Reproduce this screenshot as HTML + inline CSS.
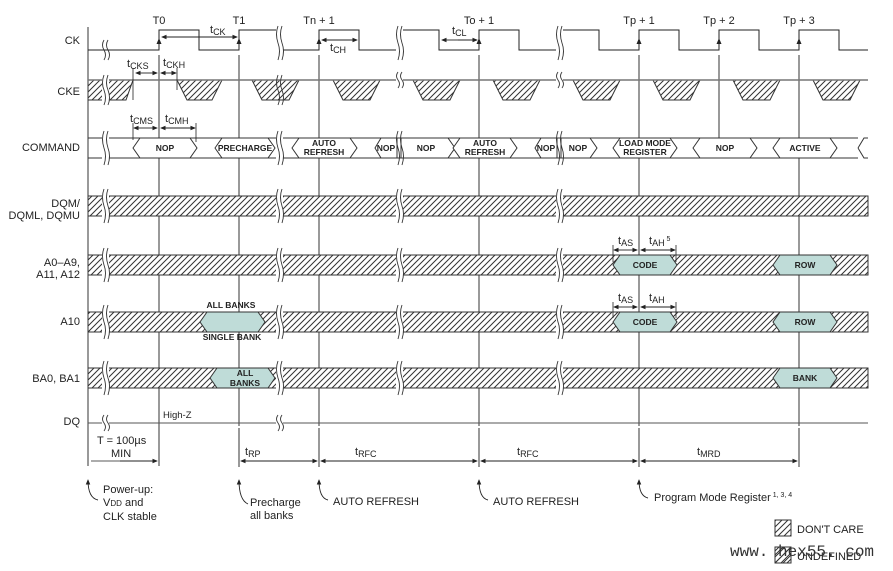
<!DOCTYPE html>
<html><head><meta charset="utf-8"><style>
body{margin:0;background:#fff}
svg{display:block;font-family:"Liberation Sans",sans-serif}
</style></head><body>
<svg width="893" height="571" viewBox="0 0 893 571" xmlns="http://www.w3.org/2000/svg">
<defs>
<pattern id="h" patternUnits="userSpaceOnUse" width="6" height="6">
<rect width="6" height="6" fill="#fff"/>
<path d="M-1,7 L7,-1 M-2,2 L2,-2 M4,8 L8,4" stroke="#333" stroke-width="1"/>
</pattern>
<marker id="a" markerWidth="6" markerHeight="6" refX="5" refY="3" orient="auto"><path d="M0,0.5 L6,3 L0,5.5z" fill="#222"/></marker>
</defs>
<g stroke="#333" stroke-width="1" fill="none">
<line x1="88" y1="27" x2="88" y2="466"/>
<line x1="159" y1="55" x2="159" y2="466"/>
<line x1="239" y1="55" x2="239" y2="426"/>
<line x1="319" y1="55" x2="319" y2="426"/>
<line x1="479" y1="55" x2="479" y2="426"/>
<line x1="639" y1="55" x2="639" y2="426"/>
<line x1="719" y1="55" x2="719" y2="138"/>
<line x1="799" y1="55" x2="799" y2="426"/>
<line x1="239" y1="428" x2="239" y2="467"/>
<line x1="319" y1="428" x2="319" y2="467"/>
<line x1="479" y1="428" x2="479" y2="467"/>
<line x1="639" y1="428" x2="639" y2="467"/>
<line x1="799" y1="428" x2="799" y2="467"/>
<path d="M88,50 H159 V30 H199 V50 H239 V30 H279 M281,50 H319 V30 H359 V50 H399 M401,30 H439 V50 H479 V30 H519 V50 H559 M561,30 H599 V50 H639 V30 H679 V50 H719 V30 H759 V50 H799 V30 H839 V50 H868" stroke="#222"/>
</g>
<g fill="#222">
<path d="M159,38 l-2.5,6 h5z"/><path d="M239,38 l-2.5,6 h5z"/><path d="M319,38 l-2.5,6 h5z"/><path d="M479,38 l-2.5,6 h5z"/><path d="M639,38 l-2.5,6 h5z"/><path d="M719,38 l-2.5,6 h5z"/><path d="M799,38 l-2.5,6 h5z"/>
</g>
<g stroke="#333" fill="url(#h)">
<path d="M88,80 H133 L126,100 H88z"/>
<path d="M177,80 H222 L212,100 H187z"/>
<path d="M252,80 H299 L289,100 H262z"/>
<path d="M333,80 H380 L370,100 H343z"/>
<path d="M413,80 H460 L450,100 H423z"/>
<path d="M493,80 H540 L530,100 H503z"/>
<path d="M573,80 H620 L610,100 H583z"/>
<path d="M653,80 H700 L690,100 H663z"/>
<path d="M733,80 H780 L770,100 H743z"/>
<path d="M813,80 H860 L850,100 H823z"/>
</g>
<line x1="88" y1="80" x2="868" y2="80" stroke="#777" stroke-width="1.5"/>
<g stroke="#333" fill="url(#h)">
<path d="M88,138 H858 L868,138 M868,158 H88z" />
<rect x="88" y="196" width="780" height="20"/>
<rect x="88" y="255" width="780" height="20"/>
<rect x="88" y="312" width="780" height="20"/>
<rect x="88" y="368" width="780" height="20"/>
</g>
<rect x="858" y="137" width="12" height="22" fill="#fff"/>
<path d="M858,148 L864,138 H868 M858,148 L864,158 H868" stroke="#333" fill="none"/>
<g stroke="#333" fill="#fff">
<path d="M133,148 L140,138 H190 L197,148 L190,158 H140z"/>
<path d="M215,148 L222,138 H268 L275,148 L268,158 H222z"/>
<path d="M292,148 L299,138 H350 L357,148 L350,158 H299z"/>
<path d="M375,148 L381,138 H397 V158 H381z"/>
<path d="M401,148 V138 H448 L455,148 L448,158 H401z"/>
<path d="M453,148 L460,138 H510 L517,148 L510,158 H460z"/>
<path d="M535,148 L541,138 H557 V158 H541z"/>
<path d="M561,148 V138 H590 L597,148 L590,158 H561z"/>
<path d="M613,148 L620,138 H670 L677,148 L670,158 H620z"/>
<path d="M693,148 L700,138 H750 L757,148 L750,158 H700z"/>
<path d="M773,148 L780,138 H830 L837,148 L830,158 H780z"/>
</g>
<g stroke="#333" fill="#bfdcd8">
<path d="M613,265 L620,255 H670 L677,265 L670,275 H620z"/>
<path d="M773,265 L780,255 H830 L837,265 L830,275 H780z"/>
<path d="M613,322 L620,312 H670 L677,322 L670,332 H620z"/>
<path d="M773,322 L780,312 H830 L837,322 L830,332 H780z"/>
<path d="M200,322 L207,312 H258 L265,322 L258,332 H207z"/>
<path d="M210,378 L217,368 H268 L275,378 L268,388 H217z"/>
<path d="M773,378 L780,368 H830 L837,378 L830,388 H780z"/>
</g>
<line x1="88" y1="423" x2="868" y2="423" stroke="#555"/>
<g fill="#fff" stroke="none">
<rect x="102" y="60" width="7" height="10"/><rect x="102" y="75" width="7" height="30"/><rect x="102" y="133" width="7" height="30"/><rect x="102" y="191" width="7" height="30"/><rect x="102" y="250" width="7" height="30"/><rect x="102" y="307" width="7" height="30"/><rect x="102" y="363" width="7" height="30"/><rect x="102" y="418" width="7" height="10"/>
<rect x="276" y="26" width="7" height="34"/><rect x="276" y="133" width="7" height="30"/><rect x="276" y="191" width="7" height="30"/><rect x="276" y="250" width="7" height="30"/><rect x="276" y="307" width="7" height="30"/><rect x="276" y="363" width="7" height="30"/><rect x="276" y="418" width="7" height="10"/>
<rect x="396" y="26" width="7" height="34"/><rect x="396" y="75" width="7" height="10"/><rect x="396" y="191" width="7" height="30"/><rect x="396" y="250" width="7" height="30"/><rect x="396" y="307" width="7" height="30"/><rect x="396" y="363" width="7" height="30"/>
<rect x="556" y="26" width="7" height="34"/><rect x="556" y="75" width="7" height="10"/><rect x="556" y="191" width="7" height="30"/><rect x="556" y="250" width="7" height="30"/><rect x="556" y="307" width="7" height="30"/><rect x="556" y="363" width="7" height="30"/>
</g>
<g stroke="#333" fill="none" stroke-width="0.9">
<path d="M104,40 q-3,5 0,10 q3,5 0,10 M108,40 q-3,5 0,10 q3,5 0,10"/>
<path d="M104,75 q-3,8 0,15 q3,8 0,15 M108,75 q-3,8 0,15 q3,8 0,15"/>
<path d="M104,131 q-3,8 0,17 q3,8 0,17 M108,131 q-3,8 0,17 q3,8 0,17"/>
<path d="M104,189 q-3,8 0,17 q3,8 0,17 M108,189 q-3,8 0,17 q3,8 0,17"/>
<path d="M104,248 q-3,8 0,17 q3,8 0,17 M108,248 q-3,8 0,17 q3,8 0,17"/>
<path d="M104,305 q-3,8 0,17 q3,8 0,17 M108,305 q-3,8 0,17 q3,8 0,17"/>
<path d="M104,361 q-3,8 0,17 q3,8 0,17 M108,361 q-3,8 0,17 q3,8 0,17"/>
<path d="M104,415 q-3,4 0,8 q3,4 0,8 M108,415 q-3,4 0,8 q3,4 0,8"/>
<path d="M278,26 q-3,8 0,17 q3,8 0,17 M282,26 q-3,8 0,17 q3,8 0,17"/>
<path d="M278,75 q-3,8 0,15 q3,8 0,15 M282,75 q-3,8 0,15 q3,8 0,15"/>
<path d="M278,131 q-3,8 0,17 q3,8 0,17 M282,131 q-3,8 0,17 q3,8 0,17"/>
<path d="M278,189 q-3,8 0,17 q3,8 0,17 M282,189 q-3,8 0,17 q3,8 0,17"/>
<path d="M278,248 q-3,8 0,17 q3,8 0,17 M282,248 q-3,8 0,17 q3,8 0,17"/>
<path d="M278,305 q-3,8 0,17 q3,8 0,17 M282,305 q-3,8 0,17 q3,8 0,17"/>
<path d="M278,361 q-3,8 0,17 q3,8 0,17 M282,361 q-3,8 0,17 q3,8 0,17"/>
<path d="M278,415 q-3,4 0,8 q3,4 0,8 M282,415 q-3,4 0,8 q3,4 0,8"/>
<path d="M398,26 q-3,8 0,17 q3,8 0,17 M402,26 q-3,8 0,17 q3,8 0,17"/>
<path d="M398,72 q-3,4 0,8 q3,4 0,8 M402,72 q-3,4 0,8 q3,4 0,8"/>
<path d="M398,131 q-3,8 0,17 q3,8 0,17 M402,131 q-3,8 0,17 q3,8 0,17"/>
<path d="M398,189 q-3,8 0,17 q3,8 0,17 M402,189 q-3,8 0,17 q3,8 0,17"/>
<path d="M398,248 q-3,8 0,17 q3,8 0,17 M402,248 q-3,8 0,17 q3,8 0,17"/>
<path d="M398,305 q-3,8 0,17 q3,8 0,17 M402,305 q-3,8 0,17 q3,8 0,17"/>
<path d="M398,361 q-3,8 0,17 q3,8 0,17 M402,361 q-3,8 0,17 q3,8 0,17"/>
<path d="M558,26 q-3,8 0,17 q3,8 0,17 M562,26 q-3,8 0,17 q3,8 0,17"/>
<path d="M558,72 q-3,4 0,8 q3,4 0,8 M562,72 q-3,4 0,8 q3,4 0,8"/>
<path d="M558,131 q-3,8 0,17 q3,8 0,17 M562,131 q-3,8 0,17 q3,8 0,17"/>
<path d="M558,189 q-3,8 0,17 q3,8 0,17 M562,189 q-3,8 0,17 q3,8 0,17"/>
<path d="M558,248 q-3,8 0,17 q3,8 0,17 M562,248 q-3,8 0,17 q3,8 0,17"/>
<path d="M558,305 q-3,8 0,17 q3,8 0,17 M562,305 q-3,8 0,17 q3,8 0,17"/>
<path d="M558,361 q-3,8 0,17 q3,8 0,17 M562,361 q-3,8 0,17 q3,8 0,17"/>
</g>
<g stroke="#222" stroke-width="0.9" marker-end="url(#a)">
<line x1="200" y1="37" x2="162" y2="37"/><line x1="200" y1="37" x2="237" y2="37"/>
<line x1="340" y1="40" x2="322" y2="40"/><line x1="340" y1="40" x2="357" y2="40"/>
<line x1="458" y1="40" x2="442" y2="40"/><line x1="458" y1="40" x2="477" y2="40"/>
<line x1="146" y1="73" x2="136" y2="73"/><line x1="146" y1="73" x2="157" y2="73"/>
<line x1="168" y1="73" x2="161" y2="73"/><line x1="168" y1="73" x2="176" y2="73"/>
<line x1="146" y1="128" x2="134" y2="128"/><line x1="146" y1="128" x2="157" y2="128"/>
<line x1="178" y1="128" x2="161" y2="128"/><line x1="178" y1="128" x2="195" y2="128"/>
<line x1="626" y1="250" x2="614" y2="250"/><line x1="626" y1="250" x2="637" y2="250"/>
<line x1="658" y1="250" x2="641" y2="250"/><line x1="658" y1="250" x2="675" y2="250"/>
<line x1="626" y1="307" x2="614" y2="307"/><line x1="626" y1="307" x2="637" y2="307"/>
<line x1="658" y1="307" x2="641" y2="307"/><line x1="658" y1="307" x2="675" y2="307"/>
<line x1="120" y1="461" x2="157" y2="461"/>
<line x1="280" y1="461" x2="241" y2="461"/><line x1="280" y1="461" x2="317" y2="461"/>
<line x1="400" y1="461" x2="321" y2="461"/><line x1="400" y1="461" x2="477" y2="461"/>
<line x1="560" y1="461" x2="481" y2="461"/><line x1="560" y1="461" x2="637" y2="461"/>
<line x1="720" y1="461" x2="641" y2="461"/><line x1="720" y1="461" x2="797" y2="461"/>
</g>
<g stroke="#222" stroke-width="0.8">
<line x1="91" y1="461" x2="120" y2="461"/>
<line x1="133" y1="68" x2="133" y2="100"/><line x1="177" y1="68" x2="177" y2="90"/>
<line x1="133" y1="123" x2="133" y2="140"/><line x1="196" y1="123" x2="196" y2="142"/>
<line x1="613" y1="245" x2="613" y2="262"/><line x1="676" y1="245" x2="676" y2="262"/>
<line x1="613" y1="302" x2="613" y2="318"/><line x1="676" y1="302" x2="676" y2="318"/>
</g>
<g stroke="#222" stroke-width="0.9" fill="none" marker-end="url(#a)">
<path d="M98,500 Q88,498 88,480"/>
<path d="M248,504 Q239,500 239,480"/>
<path d="M328,500 Q319,498 319,480"/>
<path d="M488,500 Q479,498 479,480"/>
<path d="M648,498 Q639,496 639,480"/>
</g>
<g font-size="11" fill="#222" text-anchor="end">
<text x="80" y="44">CK</text><text x="80" y="95">CKE</text><text x="80" y="151">COMMAND</text>
<text x="80" y="207">DQM/</text><text x="80" y="219">DQML, DQMU</text>
<text x="80" y="266">A0–A9,</text><text x="80" y="278">A11, A12</text>
<text x="80" y="325">A10</text><text x="80" y="382">BA0, BA1</text><text x="80" y="425">DQ</text>
</g>
<g font-size="11" fill="#222" text-anchor="middle">
<text x="159" y="24">T0</text><text x="239" y="24">T1</text><text x="319" y="24">Tn + 1</text><text x="479" y="24">To + 1</text><text x="639" y="24">Tp + 1</text><text x="719" y="24">Tp + 2</text><text x="799" y="24">Tp + 3</text>
</g>
<g font-size="11" fill="#222">
<text x="210" y="33">t<tspan font-size="9" dy="2">CK</tspan></text>
<text x="330" y="51">t<tspan font-size="9" dy="2">CH</tspan></text>
<text x="452" y="34">t<tspan font-size="9" dy="2">CL</tspan></text>
<text x="127" y="67">t<tspan font-size="9" dy="2">CKS</tspan></text>
<text x="163" y="66">t<tspan font-size="9" dy="2">CKH</tspan></text>
<text x="130" y="122">t<tspan font-size="9" dy="2">CMS</tspan></text>
<text x="165" y="122">t<tspan font-size="9" dy="2">CMH</tspan></text>
<text x="618" y="244">t<tspan font-size="9" dy="2">AS</tspan></text>
<text x="649" y="244">t<tspan font-size="9" dy="2">AH</tspan><tspan font-size="7" dy="-5"> 5</tspan></text>
<text x="618" y="301">t<tspan font-size="9" dy="2">AS</tspan></text>
<text x="649" y="301">t<tspan font-size="9" dy="2">AH</tspan></text>
<text x="245" y="455">t<tspan font-size="9" dy="2">RP</tspan></text>
<text x="355" y="455">t<tspan font-size="9" dy="2">RFC</tspan></text>
<text x="517" y="455">t<tspan font-size="9" dy="2">RFC</tspan></text>
<text x="697" y="455">t<tspan font-size="9" dy="2">MRD</tspan></text>
<text x="97" y="444">T = 100µs</text><text x="111" y="457">MIN</text>
<text x="163" y="418" font-size="9.5">High-Z</text>
<text x="103" y="493">Power-up:</text><text x="103" y="506">V<tspan font-size="8">DD</tspan> and</text><text x="103" y="520">CLK stable</text>
<text x="250" y="506">Precharge</text><text x="250" y="519">all banks</text>
<text x="333" y="505">AUTO REFRESH</text>
<text x="493" y="505">AUTO REFRESH</text>
<text x="654" y="501">Program Mode Register<tspan font-size="7" dy="-4"> 1, 3, 4</tspan></text>
<text x="797" y="533">DON'T CARE</text>
<text x="797" y="560">UNDEFINED</text>
</g>
<g font-size="8.5" fill="#222" text-anchor="middle" font-weight="bold">
<text x="165" y="151">NOP</text><text x="245" y="151">PRECHARGE</text>
<text x="324" y="146">AUTO</text><text x="324" y="155">REFRESH</text>
<text x="386" y="151">NOP</text><text x="426" y="151">NOP</text>
<text x="485" y="146">AUTO</text><text x="485" y="155">REFRESH</text>
<text x="546" y="151">NOP</text><text x="578" y="151">NOP</text>
<text x="645" y="146">LOAD MODE</text><text x="645" y="155">REGISTER</text>
<text x="725" y="151">NOP</text><text x="805" y="151">ACTIVE</text>
<text x="645" y="268">CODE</text><text x="805" y="268">ROW</text>
<text x="645" y="325">CODE</text><text x="805" y="325">ROW</text>
<text x="231" y="308">ALL BANKS</text><text x="232" y="340">SINGLE BANK</text>
<text x="245" y="376">ALL</text><text x="245" y="386">BANKS</text>
<text x="805" y="381">BANK</text>
</g>
<rect x="775" y="520" width="16" height="16" fill="url(#h)" stroke="#333"/>
<rect x="775" y="547" width="16" height="16" fill="url(#h)" stroke="#333"/>
<path d="M775,563 L791,547 M775,555 L783,547 M783,563 L791,555" stroke="#333" stroke-width="0.9"/>
<text x="730" y="556" font-size="16" fill="#333" font-family="Liberation Mono, monospace">www. hex55. com</text>
</svg>
</body></html>
